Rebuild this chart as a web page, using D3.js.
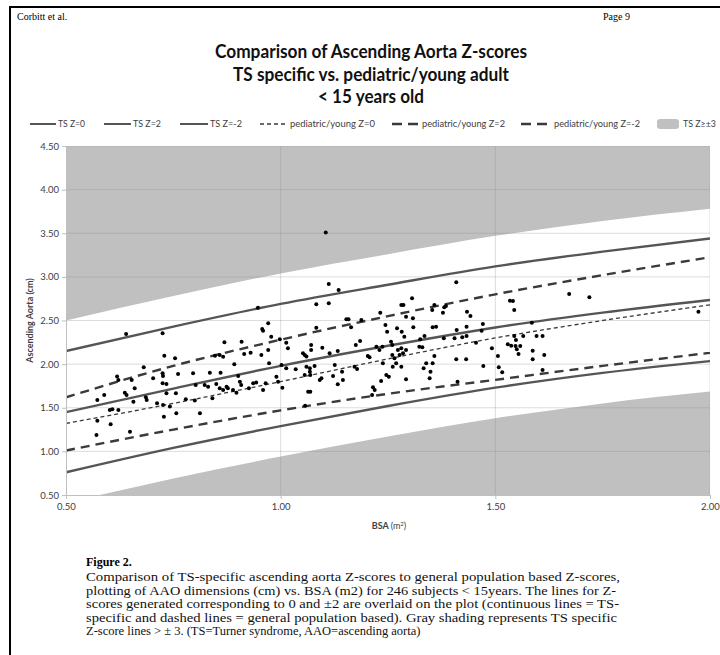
<!DOCTYPE html>
<html lang="en">
<head>
  <meta charset="UTF-8" />
  <title>Comparison of Ascending Aorta Z-scores</title>
  <script src="https://d3js.org/d3.v7.min.js"></script>
  <style>
    body { margin: 0; background: #fff; }
    svg { display: block; }
  </style>
</head>
<body>
  <svg id="chart" width="720" height="655"></svg>

  <script>
    const bsaGrid = [0.5, 0.75, 1.0, 1.25, 1.5, 1.75, 2.0];

    // TS specific Z-score curves (cm)
    const tsZ0  = [1.45, 1.72, 1.98, 2.21, 2.42, 2.59, 2.735];
    const tsZ2  = [2.15, 2.43, 2.69, 2.91, 3.12, 3.29, 3.44];
    const tsZm2 = [0.76, 1.04, 1.29, 1.52, 1.73, 1.90, 2.035];
    const tsZ3  = [2.50, 2.78, 3.04, 3.26, 3.47, 3.64, 3.78];
    const tsZm3 = [0.41, 0.69, 0.94, 1.17, 1.38, 1.55, 1.685];

    // pediatric / young adult Z-score curves (cm)
    const pedZ0  = [1.32, 1.55, 1.80, 2.06, 2.30, 2.50, 2.68];
    const pedZ2  = [1.62, 1.98, 2.28, 2.55, 2.80, 3.02, 3.225];
    const pedZm2 = [1.01, 1.25, 1.47, 1.66, 1.82, 1.98, 2.13];

    // subjects: [BSA, ascending aorta]
    const subjects = [
      [0.640,2.345],[0.725,2.353],[0.681,1.964],[0.729,2.097],[0.754,2.067],[0.847,2.097],[0.858,2.105],
      [0.866,2.085],[0.869,2.250],[0.909,2.257],[0.915,2.116],[0.930,2.131],[0.892,2.000],
      [0.573,1.589],[0.589,1.646],[0.622,1.818],[0.653,1.818],[0.641,1.646],[0.660,1.723],[0.703,1.837],
      [0.725,1.895],[0.726,1.864],[0.761,1.887],[0.796,1.895],[0.835,1.902],[0.860,1.902],[0.901,1.864],
      [0.905,1.799],[0.897,1.673],[0.908,1.761],[0.936,1.780],[0.943,1.788],[0.573,1.352],[0.571,1.188],
      [0.604,1.310],[0.602,1.475],[0.608,1.482],[0.622,1.475],[0.637,1.673],[0.657,1.570],[0.686,1.620],
      [0.688,1.589],[0.712,1.551],[0.725,1.780],[0.734,1.773],[0.726,1.532],[0.728,1.398],[0.742,1.513],
      [0.734,1.666],[0.756,1.666],[0.757,1.436],[0.779,1.597],[0.800,1.582],[0.802,1.761],[0.812,1.436],
      [0.823,1.761],[0.831,1.742],[0.841,1.608],[0.850,1.773],[0.858,1.723],[0.866,1.704],[0.874,1.742],
      [0.877,1.723],[0.889,1.704],[0.926,1.723],[0.649,1.226],[0.619,1.857],
      [0.947,2.647],[1.112,2.918],[1.135,2.850],[1.083,2.685],[1.112,2.697],[1.409,2.937],[1.306,2.754],
      [1.281,2.678],[1.286,2.678],[1.232,2.590],[1.153,2.513],[1.158,2.513],[1.188,2.506],[1.164,2.422],
      [1.083,2.418],[0.971,2.468],[0.957,2.403],[0.959,2.383],[0.978,2.315],[0.998,2.284],[1.013,2.246],
      [1.017,2.181],[0.971,2.162],[0.955,2.105],[0.973,2.009],[1.002,1.990],[1.013,1.952],[1.035,1.940],
      [1.052,2.124],[1.056,2.105],[1.060,2.086],[1.071,2.219],[1.071,2.162],[1.097,2.189],[1.133,2.150],
      [1.114,2.124],[1.175,2.219],[1.185,2.265],[1.060,1.971],[1.068,1.952],[1.079,1.979],[1.068,1.914],
      [1.069,1.875],[1.056,1.875],[1.095,1.837],[1.091,1.818],[1.122,1.864],[1.133,1.768],[1.145,1.818],
      [1.126,1.990],[1.143,1.914],[1.172,1.971],[1.178,1.944],[0.959,1.704],[0.965,1.780],[0.990,1.856],
      [0.994,1.799],[1.004,1.730],[1.064,1.684],[1.069,1.684],[1.057,1.524],[1.215,1.734],[1.219,1.704],
      [1.213,1.646],[1.234,1.807],[1.246,1.875],[1.252,1.856],[1.238,2.009],[1.261,1.971],[1.269,2.009],
      [1.265,2.066],[1.281,1.971],[1.260,2.105],[1.273,2.162],[1.285,2.124],[1.277,2.105],[1.244,2.448],
      [1.248,2.372],[1.271,2.410],[1.282,2.372],[1.288,2.315],[1.257,2.257],[1.260,2.219],[1.281,2.181],
      [1.292,2.162],[1.223,2.200],[1.230,2.162],[1.237,2.200],[1.203,2.093],[1.207,2.078],[1.292,1.826],
      [1.309,2.422],[1.308,2.525],[1.292,2.544],[1.323,2.200],[1.330,2.192],[1.325,2.284],[1.335,2.322],
      [1.333,1.952],[1.339,2.009],[1.358,2.093],[1.354,2.009],[1.349,1.914],[1.347,1.837],[1.354,2.422],
      [1.362,2.429],[1.353,2.620],[1.358,2.678],[1.378,2.590],[1.381,2.651],[1.385,2.666],[1.380,2.296],
      [1.405,2.296],[1.410,2.391],[1.423,2.307],[1.433,2.322],[1.433,2.429],[1.409,2.055],[1.432,2.055],
      [1.434,2.601],[1.442,2.552],[1.455,2.246],[1.471,2.460],[1.468,2.383],[1.472,1.979],[1.492,2.181],
      [1.506,2.093],[1.508,1.963],[1.412,1.799],[1.105,3.510],
      [1.516,1.906],[1.529,2.227],[1.537,2.212],[1.534,2.727],[1.541,2.723],[1.544,2.620],[1.544,2.322],
      [1.548,2.276],[1.550,2.170],[1.547,2.208],[1.554,2.116],[1.558,2.208],[1.565,2.322],[1.585,2.475],
      [1.587,2.154],[1.587,2.055],[1.596,2.322],[1.610,2.322],[1.614,2.105],[1.610,1.933],[1.672,2.804],
      [1.719,2.766],[1.973,2.601]
    ];

    const xTicks = [0.5, 1.0, 1.5, 2.0];
    const yTicks = [0.5, 1.0, 1.5, 2.0, 2.5, 3.0, 3.5, 4.0, 4.5];

    const legendLabels = ["TS Z=0", "TS Z=2", "TS Z=-2", "pediatric/young Z=0",
                          "pediatric/young Z=2", "pediatric/young Z=-2", "TS Z\u2265\u00b13"];

    const titleLines = ["Comparison of Ascending Aorta Z-scores",
                        "TS specific vs. pediatric/young adult",
                        "< 15 years old"];

    const captionLines = [
      "Comparison of TS-specific ascending aorta Z-scores to general population based Z-scores,",
      "plotting of AAO dimensions (cm) vs. BSA (m2) for 246 subjects < 15years. The lines for Z-",
      "scores generated corresponding to 0 and \u00b12 are overlaid on the plot (continuous lines = TS-",
      "specific and dashed lines = general population based). Gray shading represents TS specific",
      "Z-score lines > \u00b1 3. (TS=Turner syndrome, AAO=ascending aorta)"
    ];

    const sans = "Lato, 'Open Sans', sans-serif";
    const serif = "'Liberation Serif', 'DejaVu Serif', serif";

    const svg = d3.select("#chart");

    const x = d3.scaleLinear().domain([0.5, 2.0]).range([66, 710]);
    const y = d3.scaleLinear().domain([0.5, 4.5]).range([495, 146]);

    const curve = vals => bsaGrid.map((b, i) => [b, vals[i]]);
    const line = d3.line().x(d => x(d[0])).y(d => y(d[1])).curve(d3.curveMonotoneX);

    // page frame (left and top edges only are in view)
    svg.append("path")
      .attr("d", "M10,655 L10,7 L720,7")
      .attr("fill", "none")
      .attr("stroke", "#000")
      .attr("stroke-width", 2);

    svg.append("text").attr("x", 17).attr("y", 20)
      .attr("font-family", serif).attr("font-size", 10).text("Corbitt et al.");
    svg.append("text").attr("x", 630).attr("y", 20).attr("text-anchor", "end")
      .attr("font-family", serif).attr("font-size", 10).text("Page 9");

    // title
    const titleWidths = [312, 276, 106];
    svg.selectAll(".title").data(titleLines).enter().append("text")
      .attr("x", 371)
      .attr("y", (d, i) => 58 + i * 22.5)
      .attr("text-anchor", "middle")
      .attr("font-family", sans)
      .attr("font-weight", "bold")
      .attr("font-size", 18)
      .attr("fill", "#111")
      .attr("textLength", (d, i) => titleWidths[i])
      .attr("lengthAdjust", "spacingAndGlyphs")
      .text(d => d);

    // plot area
    svg.append("clipPath").attr("id", "plotClip")
      .append("rect")
      .attr("x", x(0.5)).attr("y", y(4.5))
      .attr("width", x(2.0) - x(0.5)).attr("height", y(0.5) - y(4.5));

    const plot = svg.append("g").attr("clip-path", "url(#plotClip)");

    const upperArea = d3.area().x(d => x(d[0])).y0(y(4.5)).y1(d => y(d[1])).curve(d3.curveMonotoneX);
    const lowerArea = d3.area().x(d => x(d[0])).y0(y(0.5)).y1(d => y(d[1])).curve(d3.curveMonotoneX);

    plot.append("path").datum(curve(tsZ3)).attr("d", upperArea).attr("fill", "#c0c0c0");
    plot.append("path").datum(curve(tsZm3)).attr("d", lowerArea).attr("fill", "#c0c0c0");

    // gridlines
    plot.selectAll(".hgrid").data(yTicks.slice(1)).enter().append("line")
      .attr("x1", x(0.5)).attr("x2", x(2.0))
      .attr("y1", d => y(d)).attr("y2", d => y(d))
      .attr("stroke", "#8c8c8c").attr("stroke-opacity", 0.3);
    plot.selectAll(".vgrid").data(xTicks.slice(1)).enter().append("line")
      .attr("x1", d => x(d)).attr("x2", d => x(d))
      .attr("y1", y(4.5)).attr("y2", y(0.5))
      .attr("stroke", "#8c8c8c").attr("stroke-opacity", 0.3);

    // Z-score lines
    const tsStyle = { stroke: "#555", width: 2.4, dash: null };
    const pedThin = { stroke: "#3a3a3a", width: 1.3, dash: "4,3" };
    const pedThick = { stroke: "#3a3a3a", width: 2.4, dash: "9,6" };

    const series = [
      [tsZ0, tsStyle], [tsZ2, tsStyle], [tsZm2, tsStyle],
      [pedZ0, pedThin], [pedZ2, pedThick], [pedZm2, pedThick]
    ];

    series.forEach(([vals, st]) => {
      plot.append("path")
        .datum(curve(vals))
        .attr("d", line)
        .attr("fill", "none")
        .attr("stroke", st.stroke)
        .attr("stroke-width", st.width)
        .attr("stroke-dasharray", st.dash);
    });

    // subjects
    plot.selectAll(".pt").data(subjects).enter().append("circle")
      .attr("cx", d => x(d[0]))
      .attr("cy", d => y(d[1]))
      .attr("r", 2)
      .attr("fill", "#000");

    // axes
    const yAxis = svg.append("g")
      .attr("transform", `translate(${x(0.5)},0)`)
      .call(d3.axisLeft(y).tickValues(yTicks).tickFormat(d3.format(".2f")).tickSize(4).tickPadding(3));
    const xAxis = svg.append("g")
      .attr("transform", `translate(0,${y(0.5)})`)
      .call(d3.axisBottom(x).tickValues(xTicks).tickFormat(d3.format(".2f")).tickSize(4).tickPadding(4));

    [yAxis, xAxis].forEach(g => {
      g.select(".domain").attr("stroke", "#bfbfbf");
      g.selectAll(".tick line").attr("stroke", "#bfbfbf");
      g.selectAll(".tick text")
        .attr("font-family", sans)
        .attr("font-size", 9.5)
        .attr("fill", "#404040");
    });

    svg.append("text")
      .attr("transform", `translate(31,${(y(0.5) + y(4.5)) / 2}) rotate(-90)`)
      .attr("text-anchor", "middle")
      .attr("dominant-baseline", "middle")
      .attr("font-family", sans)
      .attr("font-weight", "bold")
      .attr("font-size", 9)
      .attr("fill", "#404040")
      .text("Ascending Aorta (cm)");

    const bsaLabel = svg.append("text")
      .attr("x", 389).attr("y", 529)
      .attr("text-anchor", "middle")
      .attr("font-family", sans)
      .attr("font-size", 9)
      .attr("fill", "#404040");
    bsaLabel.append("tspan").attr("font-weight", "bold").text("BSA ");
    bsaLabel.append("tspan").text("(m");
    bsaLabel.append("tspan").attr("font-size", 6).attr("dy", -3).text("2");
    bsaLabel.append("tspan").attr("dy", 3).text(")");

    // legend
    const legendLayout = [
      { sx: 30, sw: 26, tx: 58, tw: 27 },
      { sx: 104, sw: 27, tx: 133, tw: 28 },
      { sx: 180, sw: 28, tx: 210, tw: 32 },
      { sx: 260, sw: 27, tx: 290, tw: 85 },
      { sx: 392, sw: 26, tx: 422, tw: 83 },
      { sx: 521, sw: 31, tx: 554, tw: 86 },
      { sx: 657, sw: 22, tx: 683, tw: 33 }
    ];
    const legendStyles = [tsStyle, tsStyle, tsStyle, pedThin, pedThick, pedThick, null];
    const ly = 124;
    const legend = svg.append("g");

    legendLabels.forEach((label, i) => {
      const lay = legendLayout[i];
      const st = legendStyles[i];
      if (st) {
        legend.append("line")
          .attr("x1", lay.sx).attr("x2", lay.sx + lay.sw)
          .attr("y1", ly).attr("y2", ly)
          .attr("stroke", st.stroke)
          .attr("stroke-width", st === tsStyle ? 2 : st.width)
          .attr("stroke-dasharray", st === pedThick ? "10,6" : st.dash);
      } else {
        legend.append("rect")
          .attr("x", lay.sx).attr("y", ly - 5)
          .attr("width", lay.sw).attr("height", 10)
          .attr("rx", 3)
          .attr("fill", "#c0c0c0");
      }
      legend.append("text")
        .attr("x", lay.tx).attr("y", ly + 3.2)
        .attr("font-family", sans)
        .attr("font-size", 9)
        .attr("fill", "#404040")
        .attr("textLength", lay.tw)
        .attr("lengthAdjust", "spacingAndGlyphs")
        .text(label);
    });

    // caption
    svg.append("text")
      .attr("x", 86).attr("y", 566)
      .attr("font-family", serif)
      .attr("font-weight", "bold")
      .attr("font-size", 12)
      .text("Figure 2.");

    const captionWidths = [534, 530, 533, 531, null];
    svg.selectAll(".cap").data(captionLines).enter().append("text")
      .attr("x", 86)
      .attr("y", (d, i) => 581 + i * 13.5)
      .attr("font-family", serif)
      .attr("font-size", 12.5)
      .attr("fill", "#111")
      .each(function (d, i) {
        if (captionWidths[i]) {
          d3.select(this).attr("textLength", captionWidths[i]).attr("lengthAdjust", "spacingAndGlyphs");
        }
      })
      .text(d => d);
  </script>
</body>
</html>
